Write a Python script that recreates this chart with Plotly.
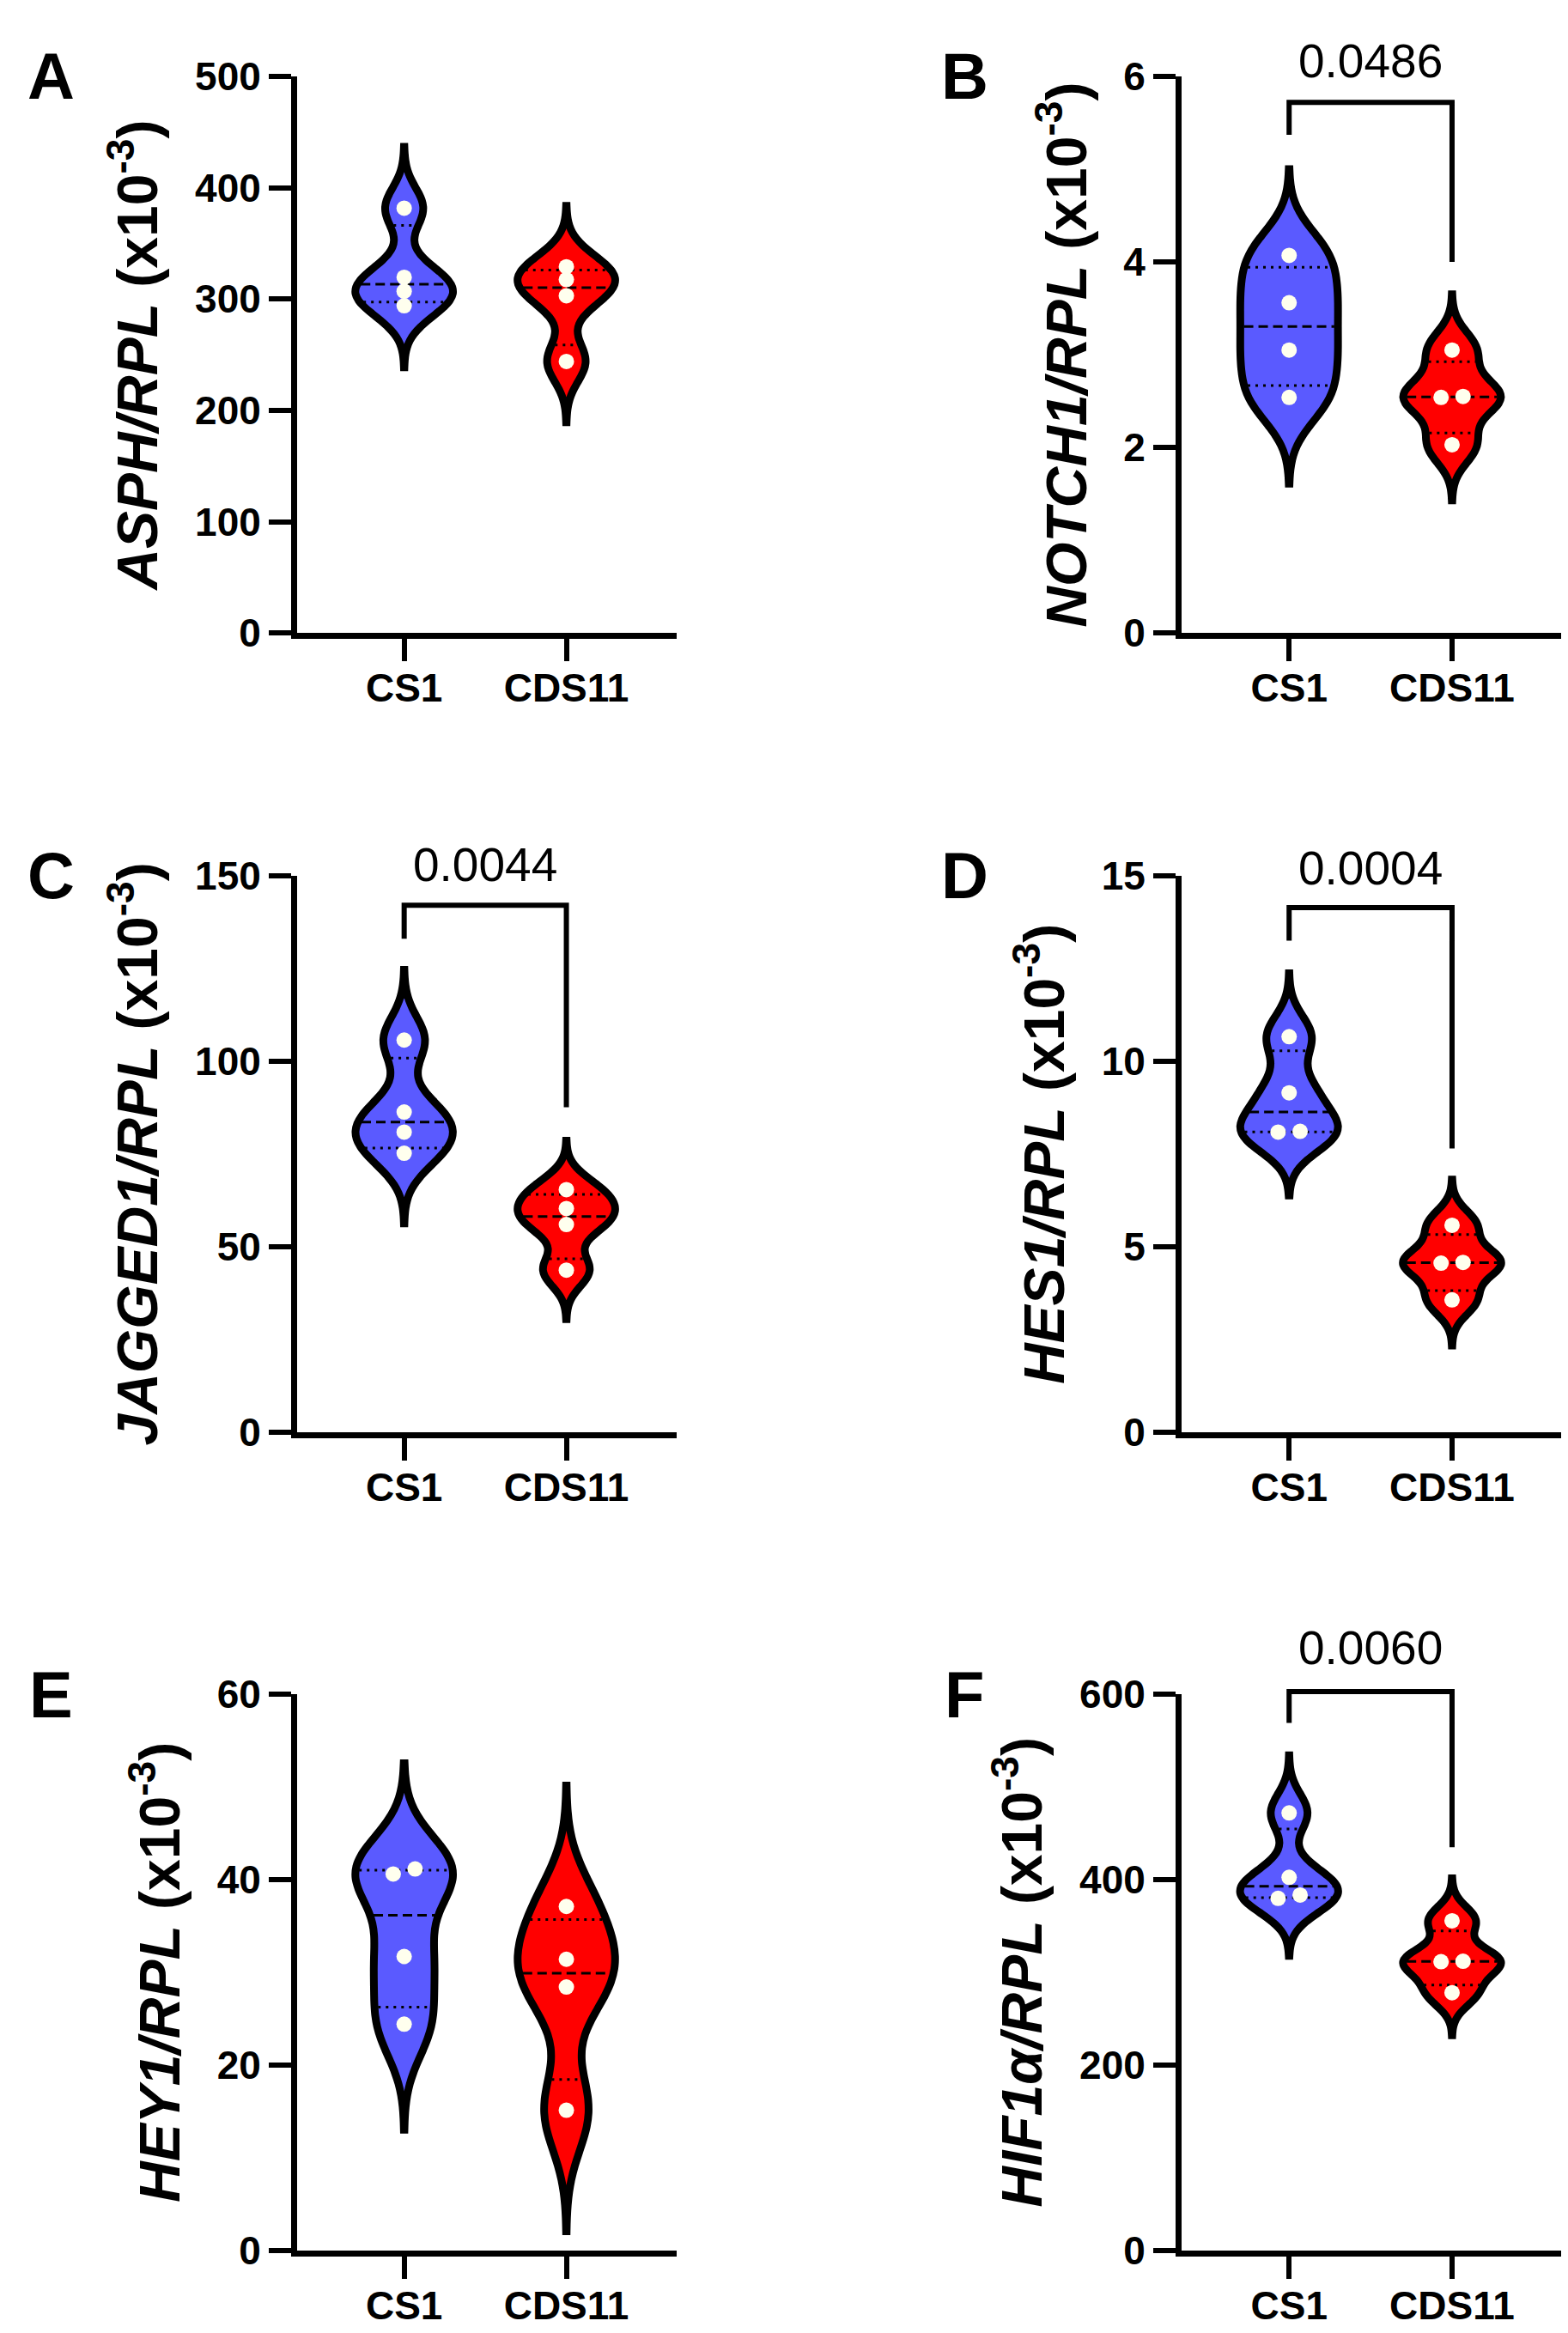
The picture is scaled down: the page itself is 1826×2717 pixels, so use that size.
import numpy as np
import plotly.graph_objects as go

# ---------------- data (units x10^-3) ----------------
groups = ["CS1", "CDS11"]

asph_cs1 = [381.6, 319.5, 307.0, 294.0]
asph_cds11 = [329.0, 317.5, 303.0, 244.0]

notch1_cs1 = [4.07, 3.56, 3.05, 2.54]
notch1_cds11 = [3.05, 2.55, 2.54, 2.03]

jagged1_cs1 = [105.7, 86.3, 80.9, 75.2]
jagged1_cds11 = [65.4, 60.3, 56.0, 43.7]

hes1_cs1 = [10.66, 9.15, 8.11, 8.09]
hes1_cds11 = [5.58, 4.58, 4.56, 3.57]

hey1_cs1 = [41.15, 40.6, 31.7, 24.4]
hey1_cds11 = [37.1, 31.4, 28.4, 15.1]

hif1a_cs1 = [472.0, 402.4, 383.3, 379.7]
hif1a_cds11 = [355.5, 311.8, 311.4, 277.9]

panel_letters = ["A", "B", "C", "D", "E", "F"]
gene_names = ["ASPH", "NOTCH1", "JAGGED1", "HES1", "HEY1", "HIF1α"]
y_max = [500, 6, 150, 15, 60, 600]
y_dtick = [100, 2, 50, 5, 20, 200]
p_values = [None, "0.0486", "0.0044", "0.0004", None, "0.0060"]

# ---------------- styling / geometry (not data) ----------------
bandwidths = [(18.4, 18.2), (0.31, 0.20), (6.3, 4.4), (0.57, 0.41), (3.8, 4.35), (20.7, 15.3)]
# bracket: (top, left-leg bottom, right-leg bottom, label centre) in axis units
brackets = [None, (5.72, 5.37, 4.0, 6.17), (142, 133, 87.6, 153), (14.14, 13.25, 7.65, 15.2),
            None, (603, 569, 435, 650)]

W, H = 1826, 2717
col_px = [(338, 780), (1368, 1812)]
row_px = [(56, 717), (1005, 1666), (1977, 2637)]
XR = [-0.66, 1.68]
VW = 0.60
BLUE = "#5A5AFF"
RED = "#FF0000"
DOT = "#FFFFEE"
FONT = "Liberation Sans"

data_pairs = [(asph_cs1, asph_cds11), (notch1_cs1, notch1_cds11), (jagged1_cs1, jagged1_cds11),
              (hes1_cs1, hes1_cds11), (hey1_cs1, hey1_cds11), (hif1a_cs1, hif1a_cds11)]

TAIL = 3.0  # span extends 3 bandwidths beyond data


def kde_halfwidth(vals, bw, levels, half):
    v = np.asarray(vals, float)
    s0, s1 = v.min() - TAIL * bw, v.max() + TAIL * bw
    n = int(np.ceil((s1 - s0) / (bw / 3)))
    t = np.linspace(s0, s1, n + 1)
    dens = lambda x: np.exp(-0.5 * ((np.asarray(x)[:, None] - v[None, :]) / bw) ** 2).sum(axis=1)
    mx = dens(t).max()
    return half * dens(levels) / mx


def swarm_offsets(vals, yrange, thresh=0.015, spacing=0.135):
    v = np.asarray(vals, float)
    order = np.argsort(v)
    offs = np.zeros(len(v))
    clusters = [[order[0]]]
    for idx in order[1:]:
        if (v[idx] - v[clusters[-1][-1]]) / yrange < thresh:
            clusters[-1].append(idx)
        else:
            clusters.append([idx])
    for cl in clusters:
        m = len(cl)
        for k, idx in enumerate(cl):
            offs[idx] = (k - (m - 1) / 2) * spacing
    return offs


fig = go.Figure()
axis_common = dict(showline=True, linewidth=7, linecolor="black", ticks="outside", ticklen=26,
                   tickwidth=6, tickcolor="black", showgrid=False, zeroline=False,
                   tickfont=dict(family=FONT, size=46, color="black", weight="bold"))
annotations = []
shapes = []

for i in range(6):
    r, c = divmod(i, 2)
    xa = "x" if i == 0 else f"x{i + 1}"
    ya = "y" if i == 0 else f"y{i + 1}"
    ymax = y_max[i]
    for g, (vals, color) in enumerate(zip(data_pairs[i], [BLUE, RED])):
        bw = bandwidths[i][g]
        span = [min(vals) - TAIL * bw, max(vals) + TAIL * bw]
        fig.add_trace(go.Violin(
            x=[g] * len(vals), y=vals, xaxis=xa, yaxis=ya, fillcolor=color,
            line=dict(color="black", width=9), width=VW, bandwidth=bw, spanmode="manual", span=span,
            points=False, box_visible=False, meanline_visible=False, showlegend=False,
            hoverinfo="skip"))
        q1, med, q3 = np.percentile(vals, [25, 50, 75], method="weibull")
        hws = kde_halfwidth(vals, bw, [q1, med, q3], VW / 2) - 0.022
        for lvl, hw, dash in zip([q1, med, q3], hws, ["3px,6px", "11px,6px", "3px,6px"]):
            if hw <= 0:
                continue
            fig.add_trace(go.Scatter(
                x=[g - hw, g + hw], y=[lvl, lvl], xaxis=xa, yaxis=ya, mode="lines",
                line=dict(color="black", width=3, dash=dash), showlegend=False, hoverinfo="skip"))
        offs = swarm_offsets(vals, ymax)
        fig.add_trace(go.Scatter(
            x=g + offs, y=vals, xaxis=xa, yaxis=ya, mode="markers",
            marker=dict(color=DOT, size=18, line=dict(width=0)), showlegend=False))

    x0, x1 = col_px[c]
    t, b = row_px[r]
    xdom = [x0 / W, x1 / W]
    ydom = [1 - b / H, 1 - t / H]
    key_x = "xaxis" if i == 0 else f"xaxis{i + 1}"
    key_y = "yaxis" if i == 0 else f"yaxis{i + 1}"
    fig.layout[key_x] = dict(domain=xdom, range=XR, tickvals=[0, 1], ticktext=groups,
                             anchor=ya, ticklabelstandoff=-8, **axis_common)
    fig.layout[key_y] = dict(domain=ydom, range=[0, ymax], dtick=y_dtick[i], tick0=0, anchor=xa,
                             title=dict(text=f"<b><i>{gene_names[i]}/RPL</i> (x10<sup>-3</sup>)</b>",
                                        font=dict(family=FONT, size=66, color="black"), standoff=24),
                             **axis_common)

    # panel letter
    lx = 51 if c == 0 else 1115
    annotations.append(dict(text=f"<b>{panel_letters[i]}</b>", x=lx / W, y=ydom[1], xref="paper",
                            yref="paper", xanchor="center", yanchor="middle", showarrow=False,
                            font=dict(family=FONT, size=76, color="black")))

    if brackets[i] is not None:
        top, lb, rb, ty = brackets[i]
        fx = lambda v: (v - XR[0]) / (XR[1] - XR[0])
        fy = lambda v: v / ymax
        path = (f"M {fx(0)},{fy(lb)} L {fx(0)},{fy(top)} L {fx(1)},{fy(top)} L {fx(1)},{fy(rb)}")
        shapes.append(dict(type="path", path=path, xref=f"{xa} domain", yref=f"{ya} domain",
                           line=dict(color="black", width=6)))
        annotations.append(dict(text=p_values[i], x=fx(0.5), y=fy(ty), xref=f"{xa} domain",
                                yref=f"{ya} domain", xanchor="center", yanchor="middle",
                                showarrow=False, font=dict(family=FONT, size=55, color="black")))

fig.update_layout(width=W, height=H, margin=dict(l=0, r=0, t=0, b=0), autosize=False,
                  paper_bgcolor="white", plot_bgcolor="white", showlegend=False,
                  annotations=annotations, shapes=shapes, violingap=0, violinmode="overlay")

fig.write_html("out.html")
